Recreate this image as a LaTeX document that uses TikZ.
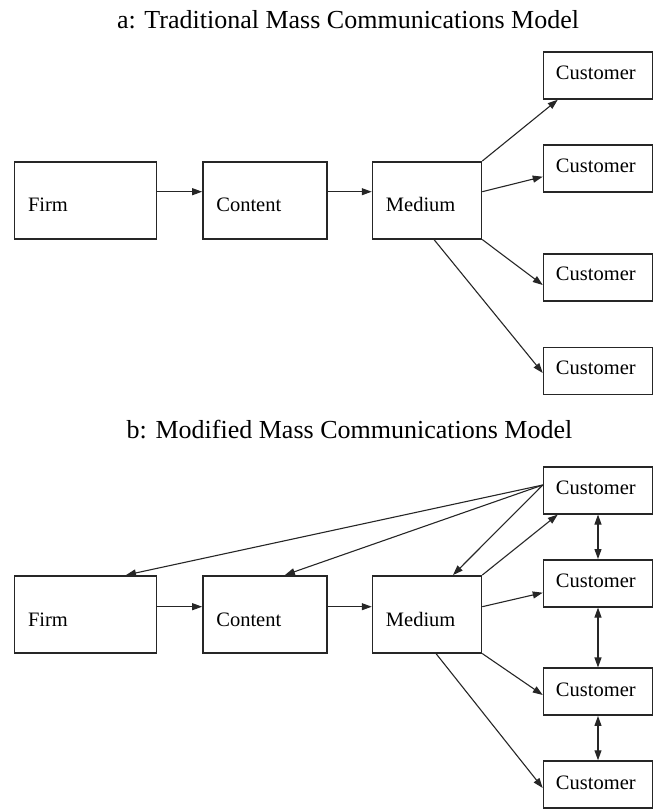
\documentclass[tikz,border=0pt]{standalone}
\usepackage{fontspec}
\setmainfont{Liberation Serif}
\usetikzlibrary{arrows.meta,calc}

\tikzset{
  box/.style={draw=black!85, line width=1.5pt, inner sep=0pt, minimum height=47pt},
  bigbox/.style={box, minimum height=77pt},
  cust/.style={box, minimum width=109pt},
  lbl/.style={anchor=base west, inner sep=0pt, font=\fontsize{20.5}{24}\selectfont},
  title/.style={anchor=base, inner sep=0pt, font=\fontsize{26}{30}\selectfont},
  flow/.style={draw=black!85, line width=1.1pt, -{Triangle[length=10pt,width=7pt]}},
  both/.style={flow, {Triangle[length=10pt,width=7pt]}-{Triangle[length=10pt,width=7pt]}}
}

\begin{document}
\begin{tikzpicture}[x=1pt,y=-1pt]
\useasboundingbox (0,0) rectangle (658,809);

% ---------- a: traditional model ----------
\node[title] (tA) at (348,28.3) {a: Traditional Mass Communications Model};

\node[bigbox, minimum width=142pt] (firmA) at (85.6,200.3) {};
\node[bigbox, minimum width=124pt] (contA) at (264.9,200.3) {};
\node[bigbox, minimum width=109pt] (medA)  at (427,200.3) {};
\node[cust] (cA1) at (598,75.5) {};
\node[cust] (cA2) at (598,168.7) {};
\node[cust] (cA3) at (598,277.3) {};
\node[cust] (cA4) at (598,371) {};

\node[lbl] at ($(firmA.west)+(14,11.5)$) {Firm};
\node[lbl] at ($(contA.west)+(14,11.5)$) {Content};
\node[lbl] at ($(medA.west)+(14,11.5)$) {Medium};
\foreach \c in {cA1,cA2,cA3,cA4}
  \node[lbl] at ($(\c.west)+(13,3.5)$) {Customer};

\draw[flow] ([yshift=8.6pt]firmA.east) -- ([yshift=8.6pt]contA.west);
\draw[flow] ([yshift=8.6pt]contA.east) -- ([yshift=8.6pt]medA.west);
\draw[flow] (medA.north east) -- ([xshift=15pt]cA1.south west);
\draw[flow] ([yshift=8.6pt]medA.east) -- ([yshift=-8pt]cA2.west);
\draw[flow] (medA.south east) -- ([yshift=-7.7pt]cA3.west);
\draw[flow] ([xshift=7pt]medA.south) -- ([yshift=-2pt]cA4.west);

% ---------- b: modified model ----------
\node[title] (tB) at (349.5,438.3) {b: Modified Mass Communications Model};

\node[bigbox, minimum width=142pt] (firmB) at (85.6,614.3) {};
\node[bigbox, minimum width=124pt] (contB) at (264.9,614.3) {};
\node[bigbox, minimum width=109pt] (medB)  at (427,614.3) {};
\node[cust] (cB1) at (598,490.3) {};
\node[cust] (cB2) at (598,583.3) {};
\node[cust] (cB3) at (598,691.7) {};
\node[cust] (cB4) at (598,784.5) {};

\node[lbl] at ($(firmB.west)+(14,12)$) {Firm};
\node[lbl] at ($(contB.west)+(14,12)$) {Content};
\node[lbl] at ($(medB.west)+(14,12)$) {Medium};
\foreach \c in {cB1,cB2,cB3,cB4}
  \node[lbl] at ($(\c.west)+(13,4.5)$) {Customer};

% feedback from the first customer
\coordinate (fb) at ([yshift=5.3pt]cB1.west);
\draw[flow] (fb) -- ([xshift=40.4pt]firmB.north);
\draw[flow] (fb) -- ([xshift=20pt]contB.north);
\draw[flow] (fb) -- ([xshift=26pt]medB.north);

\draw[flow] ([yshift=7.6pt]firmB.east) -- ([yshift=7.6pt]contB.west);
\draw[flow] ([yshift=7.6pt]contB.east) -- ([yshift=7.6pt]medB.west);
\draw[flow] (medB.north east) -- ([xshift=15pt]cB1.south west);
\draw[flow] ([yshift=7.6pt]medB.east) -- ([yshift=-9.4pt]cB2.west);
\draw[flow] (medB.south east) -- ([yshift=-3.3pt]cB3.west);
\draw[flow] ([xshift=9pt]medB.south) -- ([yshift=-3.5pt]cB4.west);

% customer-to-customer links
\draw[both] (cB1.south) -- (cB2.north);
\draw[both] (cB2.south) -- (cB3.north);
\draw[both] (cB3.south) -- (cB4.north);
\end{tikzpicture}
\end{document}
